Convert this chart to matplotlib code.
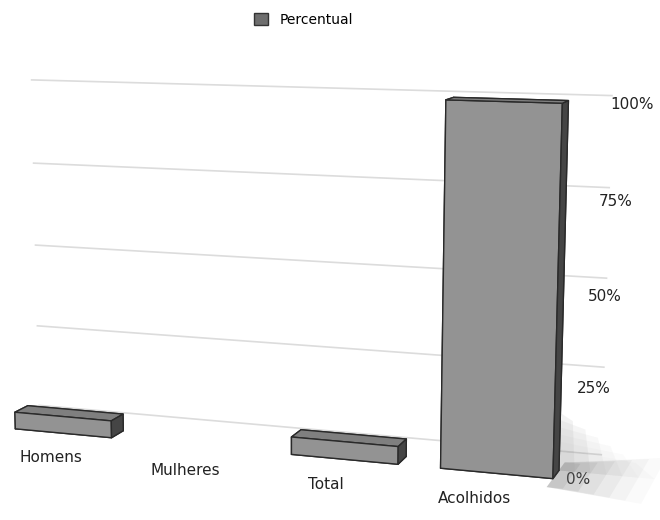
import numpy as np
import matplotlib.pyplot as plt
from mpl_toolkits.mplot3d import proj3d
from mpl_toolkits.mplot3d.art3d import Poly3DCollection

categories = ['Homens', 'Mulheres', 'Total', 'Acolhidos']
percentual = [5, 0, 5, 100]
tick_values = [0, 25, 50, 75, 100]
tick_labels = ['0%', '25%', '50%', '75%', '100%']

fig = plt.figure(figsize=(6.6, 5.2), dpi=100)
ax = fig.add_axes([-0.33, -0.29, 1.5, 1.5], projection='3d')
ax.set_proj_type('persp', focal_length=0.45)
ax.view_init(elev=10, azim=-71)
ax.set_box_aspect((5.2, 1.0, 3.0), zoom=0.9)

x = np.arange(len(categories))
vals = np.array(percentual, dtype=float)
w, d = 0.72, 0.3
m = vals > 0
ax.bar3d(x[m] - w / 2, np.zeros(m.sum()), np.zeros(m.sum()), w, d, vals[m],
         color='#a6a6a6', shade=True, edgecolor='#2a2a2a', linewidth=1.0)

# soft shadow on the floor, right of the tall bar
edge = x[np.argmax(vals)] + w / 2
for k, a in enumerate([0.16, 0.12, 0.09, 0.07, 0.05, 0.04]):
    L = 0.1 + 0.1 * k
    poly = [(edge, -0.3, 0), (edge + L, -0.3 - 0.05 * k, 0),
            (edge + L, 0.6 + 0.1 * k, 0), (edge, 0.6, 0)]
    ax.add_collection3d(Poly3DCollection([poly], facecolor='#808080',
                                         edgecolor='none', alpha=a))
    wall = [(edge, 0.3, 0), (edge + L, 0.3, 0),
            (edge + L * 0.8, 0.3, 14 - 2 * k), (edge, 0.3, 16 - 2 * k)]
    ax.add_collection3d(Poly3DCollection([wall], facecolor='#909090',
                                         edgecolor='none', alpha=a * 0.7))

ax.set_xlim(-0.5, 3.55)
ax.set_ylim(-0.2, 1.0)
ax.set_zlim(0, 100)
ax.set_axis_off()

# back wall gridlines
for t in tick_values:
    ax.plot([-0.5, 3.55], [1.0, 1.0], [t, t], color='#dcdcdc', lw=1.2, zorder=0)

M = ax.get_proj()
for t, lab in zip(tick_values, tick_labels):
    px, py, _ = proj3d.proj_transform(3.44 + 0.0021 * t, 0.0, t, M)
    ax.text2D(px, py, lab, transform=ax.transData, fontsize=11,
              ha='left', va='center', color='#222222')

for xi, cat in zip(x, categories):
    px, py, _ = proj3d.proj_transform(xi - 0.03 * xi, -0.3, -3, M)
    ax.text2D(px, py, cat, transform=ax.transData, fontsize=11,
              ha='center', va='top', color='#222222')

for art in ax.get_children():
    art.set_clip_on(False)

fig.legend(handles=[plt.Rectangle((0, 0), 1, 1, fc='#6e6e6e', ec='#333333')],
           labels=['Percentual'], loc='upper center', frameon=False,
           fontsize=10, handlelength=1.0, handleheight=1.0,
           bbox_to_anchor=(0.46, 1.0))

fig.savefig('out.png', dpi=100)
